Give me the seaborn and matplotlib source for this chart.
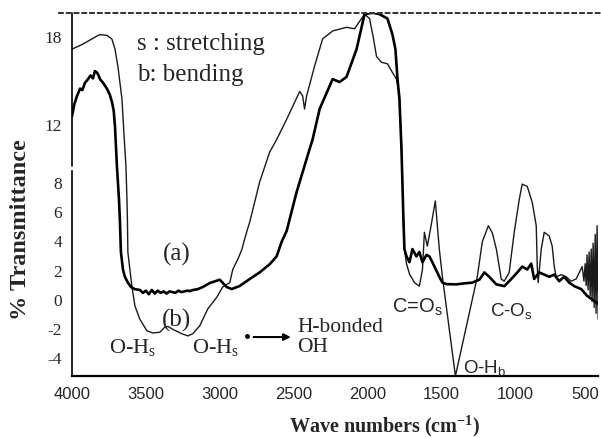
import numpy as np
import pandas as pd
import matplotlib
matplotlib.use("Agg")
import matplotlib.pyplot as plt
import matplotlib.transforms as mtransforms
from matplotlib.lines import Line2D
import seaborn as sns

# curve (a): thick, noisy trace
a_wn = [4000, 3985, 3966, 3945, 3930, 3912, 3895, 3875, 3858, 3845, 3831, 3820, 3811, 3790,
        3764, 3745, 3730, 3718, 3709, 3696, 3682, 3676, 3669, 3655, 3642, 3622, 3601, 3574,
        3541, 3520, 3500, 3480, 3460, 3440, 3420, 3400, 3380, 3360, 3340, 3320, 3300, 3280,
        3260, 3240, 3220, 3203, 3180, 3150, 3115, 3068, 3000, 2953, 2919, 2865, 2797, 2730,
        2662, 2615, 2581, 2547, 2480, 2392, 2372, 2324, 2236, 2189, 2142, 2074, 2020, 1966,
        1919, 1865, 1831, 1811, 1797, 1784, 1770, 1757, 1750, 1736, 1716, 1696, 1669, 1649,
        1628, 1601, 1581, 1561, 1514, 1493, 1466, 1399, 1345, 1291, 1243, 1209, 1176, 1128,
        1074, 1027, 986, 953, 919, 892, 872, 838, 804, 770, 736, 703, 669, 635, 601, 554,
        514, 466, 440]
a_tr = [12.5, 13.3, 13.9, 14.4, 14.3, 14.8, 15.0, 15.3, 15.1, 15.6, 15.5, 15.3, 15.05, 14.8,
        14.4, 14.0, 13.5, 12.9, 11.8, 9.1, 6.8, 5.4, 3.2, 2.0, 1.5, 1.1, 0.8, 0.65,
        0.6, 0.4, 0.55, 0.3, 0.6, 0.35, 0.55, 0.4, 0.5, 0.35, 0.5, 0.45, 0.4, 0.55,
        0.45, 0.5, 0.55, 0.52, 0.6, 0.65, 0.8, 1.07, 1.3, 0.8, 0.66, 0.87, 1.35, 1.8,
        2.36, 2.9, 3.9, 4.65, 7.3, 10.25, 10.9, 13.0, 15.05, 14.85, 15.2, 17.1, 19.5, 19.6,
        19.5, 19.2, 18.1, 17.1, 15.05, 13.7, 10.25, 5.45, 3.4, 2.9, 2.5, 3.4, 2.9, 3.2,
        2.5, 3.0, 2.9, 2.5, 1.5, 1.1, 1.0, 0.98, 1.05, 1.1, 1.3, 1.8, 1.5, 0.98,
        0.86, 1.35, 1.8, 2.2, 2.0, 2.4, 1.35, 1.8, 1.65, 1.5, 1.65, 1.2, 1.5, 1.1, 0.86, 0.66,
        0.2, -0.15, -0.35]

# curve (b): thin trace
b_wn = [4000, 3926, 3831, 3811, 3764, 3730, 3709, 3689, 3662, 3649, 3635, 3628, 3625, 3622,
        3595, 3574, 3541, 3493, 3453, 3405, 3372, 3351, 3318, 3257, 3216, 3182, 3135, 3081,
        3020, 2980, 2932, 2912, 2878, 2851, 2831, 2811, 2797, 2730, 2662, 2615, 2547, 2459,
        2439, 2426, 2412, 2358, 2304, 2236, 2142, 2088, 2054, 2020, 1986, 1959, 1939, 1905,
        1865, 1831, 1804, 1784, 1770, 1757, 1750, 1736, 1716, 1682, 1649, 1628, 1615, 1595,
        1568, 1541, 1514, 1493, 1405, 1257, 1223, 1182, 1155, 1128, 1095, 1074, 1041, 1007,
        973, 953, 919, 885, 858, 851, 845, 824, 804, 770, 750, 736, 723, 689, 655, 622, 588,
        547, 535, 527, 520, 514, 507, 500, 493, 486, 480, 473, 466, 459, 453, 446, 439, 432]
b_tr = [17.1, 17.45, 18.0, 18.1, 18.05, 17.8, 17.1, 15.9, 13.7, 11.4, 9.1, 6.8, 5.45, 3.2,
        0.87, -0.5, -1.4, -2.2, -2.35, -2.3, -1.95, -1.9, -2.1, -2.4, -2.55, -2.4, -1.85, -0.7,
        0.1, 0.8, 1.1, 2.0, 2.7, 3.35, 4.1, 4.8, 5.25, 8.0, 10.05, 10.9, 12.3, 14.2,
        13.9, 13.0, 13.9, 15.95, 17.8, 18.35, 18.6, 18.5, 19.0, 19.5, 19.2, 17.8, 16.6, 16.2,
        16.1, 15.5, 15.05, 14.0, 10.25, 5.45, 3.4, 2.4, 1.7, 1.1, 0.86, 2.0, 4.55, 3.6,
        5.1, 6.7, 3.4, 1.5, -5.3, 1.5, 3.9, 5.0, 4.5, 3.4, 1.35, 1.2, 1.8, 4.55,
        6.8, 7.85, 7.7, 6.6, 5.0, 2.2, 1.1, 3.4, 4.55, 4.3, 3.6, 2.2, 1.5, 1.65, 1.5, 1.2, 1.35,
        2.2, 1.2, 2.4, 0.9, 3.0, 0.6, 3.2, 0.2, 3.4, -0.2, 3.8, -0.6, 4.4, -1.0, 5.0, -1.4, 5.5]

y_ticks = [18, 12, 8, 6, 4, 2, 0, -2, -4]
x_ticks = [4000, 3500, 3000, 2500, 2000, 1500, 1000, 500]

df = pd.concat([
    pd.DataFrame({"wn": a_wn, "T": a_tr, "sample": "a"}),
    pd.DataFrame({"wn": b_wn, "T": b_tr, "sample": "b"}),
])

sns.set_theme(style="white")
plt.rcParams["font.family"] = ["Liberation Serif", "DejaVu Serif"]
plt.rcParams["mathtext.fontset"] = "custom"
plt.rcParams["mathtext.rm"] = "Liberation Serif"
plt.rcParams["mathtext.bf"] = "Liberation Serif:bold"
plt.rcParams["mathtext.sf"] = "Liberation Sans"

fig = plt.figure(figsize=(6.01, 4.39), dpi=100)
ax = fig.add_axes([0.1198, 0.1412, 0.8752, 0.8269])

sns.lineplot(data=df[df["sample"] == "b"], x="wn", y="T", sort=False, estimator=None,
             color="#1a1a1a", lw=1.0, ax=ax)
sns.lineplot(data=df[df["sample"] == "a"], x="wn", y="T", sort=False, estimator=None,
             color="black", lw=1.9, ax=ax)

ax.set_xlim(4000, 440)
ax.set_ylim(-5.3, 19.58)

# broken left spine
ax.spines["left"].set_bounds(-5.3, 8.75)
ax.plot([0, 0], [9.1, 19.58], transform=ax.get_yaxis_transform(), color="black",
        lw=1.2, clip_on=False)
for s in ["top", "right"]:
    ax.spines[s].set_visible(False)
ax.spines["left"].set_linewidth(1.2)
ax.spines["bottom"].set_linewidth(1.6)
ax.spines["left"].set_color("black")
ax.spines["bottom"].set_color("black")
fig.add_artist(Line2D([58 / 601, 1.0], [1 - 14 / 439, 1 - 14 / 439], color="#333333",
                      lw=1.4, linestyle=(0, (3, 1))))

ax.set_yticks(y_ticks)
ax.set_yticklabels([str(t) for t in y_ticks], fontsize=12.5)
minor = [v for v in np.arange(-5.0, 19.6, 0.5) if not (8.75 < v < 9.1)]
ax.set_yticks(minor, minor=True)
ax.tick_params(axis="y", which="major", direction="out", length=5, width=1, color="black", pad=2)
ax.tick_params(axis="y", which="minor", direction="in", length=2.5, width=0.8, color="black")
ax.set_xticks(x_ticks)
ax.set_xticklabels([str(t) for t in x_ticks], fontsize=12, family="Liberation Sans")
ax.tick_params(axis="x", direction="out", length=4, width=1, color="black", pad=3)
# nudge the last tick label so it stays inside the canvas
last = ax.get_xticklabels()[-1]
last.set_transform(last.get_transform() +
                   mtransforms.ScaledTranslation(-4 / 100, 0, fig.dpi_scale_trans))

ax.set_xlabel("Wave numbers (cm$^{\\mathbf{-1}}$)", fontsize=14.5, fontweight="bold")
ax.xaxis.set_label_coords(0.595, -0.098)
ax.set_ylabel("% Transmittance", fontsize=17.5, fontweight="bold")
ax.yaxis.set_label_coords(-0.078, 0.405)

ax.text(3561, 17.5, "s : stretching", fontsize=18, va="center", ha="left")
ax.text(3561, 15.4, "b: bending", fontsize=18, va="center", ha="left")
ax.text(3290, 3.1, "(a)", fontsize=18, va="center", ha="center")
ax.text(3290, -1.4, "(b)", fontsize=18, va="center", ha="center")
ax.text(3588, -3.3, "O-H$_\\mathrm{s}$", fontsize=16, va="center", ha="center")
ax.text(3027, -3.3, "O-H$_\\mathrm{s}$", fontsize=16, va="center", ha="center")
ax.plot([2818], [-2.55], marker="o", ms=2.5, color="black")
ax.annotate("", xy=(2500, -2.63), xytext=(2790, -2.63),
            arrowprops=dict(arrowstyle="-|>", color="black", lw=1.5, mutation_scale=10))
ax.text(2473, -2.6, "H-bonded\nOH", fontsize=15.5, va="center", ha="left", linespacing=1.1)
ax.text(1662, -0.5, "C=O$_\\mathsf{s}$", fontsize=14.5, va="center", ha="center",
        family="Liberation Sans")
ax.text(1027, -0.8, "C-O$_\\mathsf{s}$", fontsize=13.5, va="center", ha="center",
        family="Liberation Sans")
ax.text(1209, -4.75, "O-H$_\\mathsf{b}$", fontsize=13.5, va="center", ha="center",
        family="Liberation Sans")

fig.savefig("out.png", dpi=100)
